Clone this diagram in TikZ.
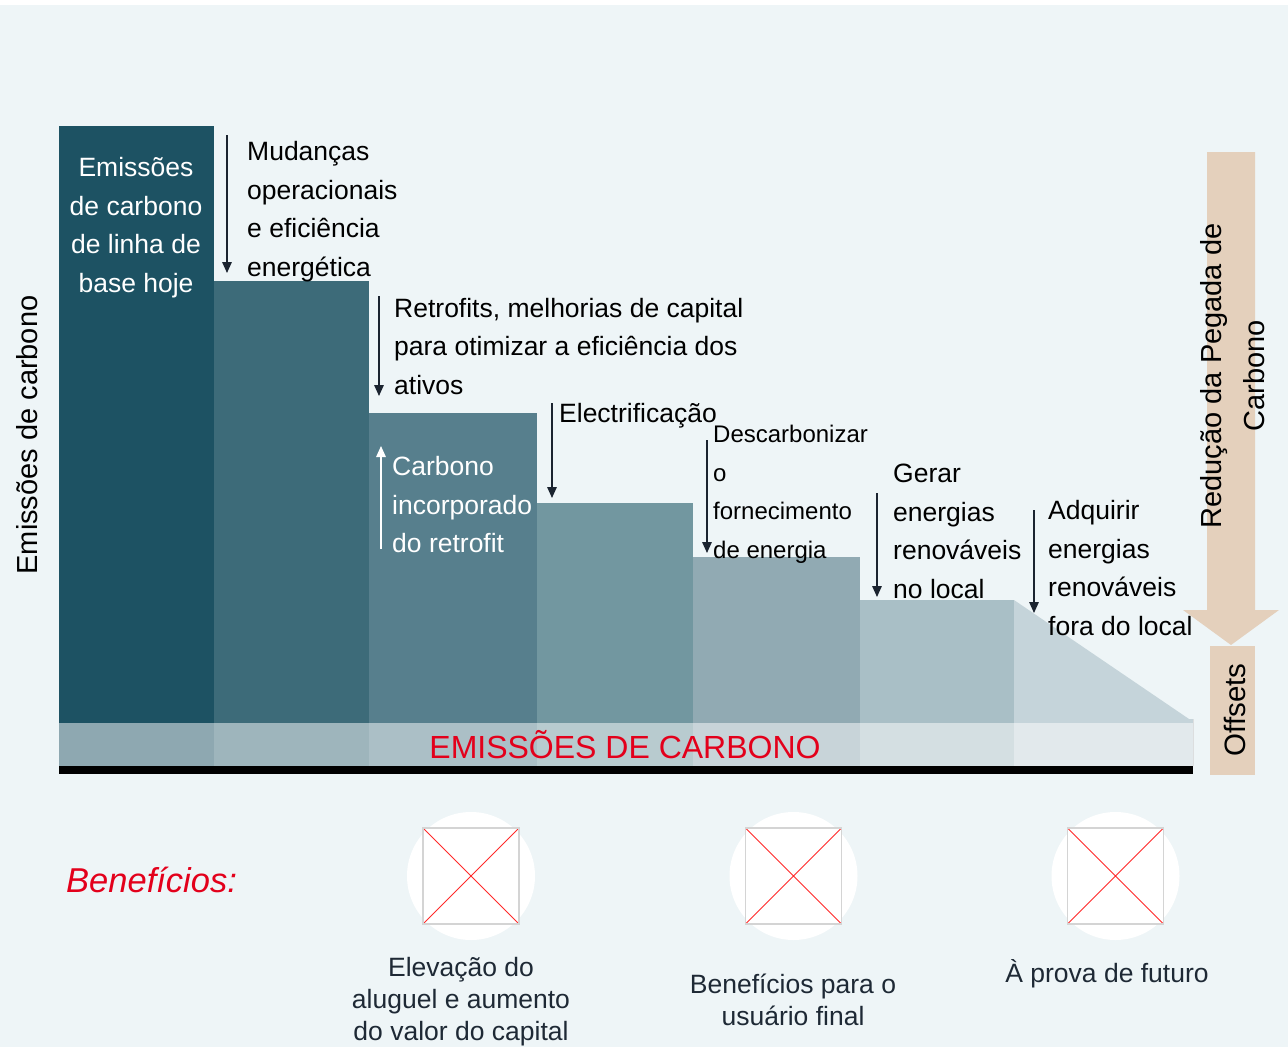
\documentclass[tikz,border=0pt]{standalone}
\usepackage{fontspec}
\setmainfont{Liberation Sans}
\usetikzlibrary{arrows.meta}
\definecolor{bg}{HTML}{EEF5F7}
\definecolor{cA}{HTML}{1D5263}
\definecolor{cB}{HTML}{3D6B79}
\definecolor{cC}{HTML}{577F8D}
\definecolor{cD}{HTML}{7297A0}
\definecolor{cE}{HTML}{91AAB3}
\definecolor{cF}{HTML}{A9BFC6}
\definecolor{cG}{HTML}{C5D4DA}
\definecolor{beige}{HTML}{E4D0BC}
\definecolor{arrdark}{HTML}{1B2430}
\definecolor{baseline}{HTML}{141C25}
\definecolor{redtxt}{HTML}{E3001B}
\definecolor{txtdark}{HTML}{1E2935}
\definecolor{sqgray}{HTML}{D4D4D4}
\definecolor{xred}{HTML}{FF2A2A}
\begin{document}
\begin{tikzpicture}[x=1pt,y=-1pt,
  lbl/.style={anchor=west,inner sep=0pt,align=left,font=\fontsize{26.5}{38.5}\selectfont,text=black},
  darr/.style={draw=arrdark,line width=1.5pt,-{Triangle[length=11pt,width=9.5pt]}},
  warr/.style={draw=white,line width=1.5pt,-{Triangle[length=11pt,width=9.5pt]}},
  bene/.style={inner sep=0pt,align=center,font=\fontsize{26.5}{32}\selectfont,text=txtdark},
  disc/.style={circle,fill=white,minimum size=128pt,inner sep=0pt},
  vlab/.style={rotate=90,inner sep=0pt,align=center,font=\fontsize{29}{43}\selectfont,text=black}]
\useasboundingbox (0,0) rectangle (1288,1047);
\fill[bg] (0,0) rectangle (1288,1047);
\fill[white] (0,0) rectangle (1288,5);
% bars
\fill[cA] (59,126) rectangle (214,766);
\fill[cB] (214,281) rectangle (369,766);
\fill[cC] (369,413) rectangle (537,766);
\fill[cD] (537,503) rectangle (693,766);
\fill[cE] (693,557) rectangle (860,766);
\fill[cF] (860,600) rectangle (1014,766);
\fill[cG] (1014,600) -- (1189,719) -- (1193,719) -- (1193,766) -- (1014,766) -- cycle;
% band
\fill[white,opacity=0.5] (59,723) rectangle (1193,766);
\draw[sqgray!70!bg,line width=1pt] (1193,719) -- (1193,766);
\fill[baseline] (59,766) rectangle (1193,774);
\node[inner sep=0pt,text=redtxt,font=\fontsize{32}{36}\selectfont] (band) at (625,744.5) {EMISSÕES DE CARBONO};
% left label
\node[vlab] (ylab) at (27,435) {Emissões de carbono};
% bar 1 text
\node[inner sep=0pt,align=center,font=\fontsize{26.5}{38.5}\selectfont,text=white] (base) at (136,227.5) {Emissões\\de carbono\\de linha de\\base hoje};
% step labels and arrows
\node[lbl] (t1) at (247,211.5) {Mudanças\\operacionais\\e eficiência\\energética};
\coordinate (a1s) at (227,135); \coordinate (a1e) at (227,273);
\draw[darr] (a1s) -- (a1e);
\node[lbl] (t2) at (394,346.5) {Retrofits, melhorias de capital\\para otimizar a eficiência dos\\ativos};
\coordinate (a2s) at (379,296); \coordinate (a2e) at (379,396);
\draw[darr] (a2s) -- (a2e);
\node[lbl,text=white] (t3) at (392,505) {Carbono\\incorporado\\do retrofit};
\coordinate (a3s) at (381,549); \coordinate (a3e) at (381,446);
\draw[warr] (a3s) -- (a3e);
\node[lbl] (t4) at (559,416) {Electrificação};
\coordinate (a4s) at (552,403); \coordinate (a4e) at (552,498);
\draw[darr] (a4s) -- (a4e);
\node[lbl,font=\fontsize{24}{38.5}\selectfont] (t5) at (713,494.5) {Descarbonizar\\o\\fornecimento\\de energia};
\coordinate (a5s) at (707,440); \coordinate (a5e) at (707,553);
\draw[darr] (a5s) -- (a5e);
\node[lbl] (t6) at (893,531.5) {Gerar\\energias\\renováveis\\no local};
\coordinate (a6s) at (877,493); \coordinate (a6e) at (877,597);
\draw[darr] (a6s) -- (a6e);
\node[lbl] (t7) at (1048,568) {Adquirir\\energias\\renováveis\\fora do local};
\coordinate (a7s) at (1034,510); \coordinate (a7e) at (1034,613);
\draw[darr] (a7s) -- (a7e);
% right big arrow
\fill[beige] (1207,152) -- (1255,152) -- (1255,610) -- (1279,610) -- (1231,645) -- (1183,610) -- (1207,610) -- cycle;
\node[vlab] (red) at (1233,376) {Redução da Pegada de\\Carbono};
\fill[beige] (1210,646) rectangle (1255,775);
\node[vlab,font=\fontsize{29.5}{36}\selectfont] (off) at (1235,710) {Offsets};
% benefits
\node[anchor=west,inner sep=0pt,text=redtxt,font=\fontsize{34.5}{38}\selectfont\itshape] (ben) at (66,880) {Benefícios:};
\foreach \n/\cx in {1/471,2/793.5,3/1115.5}{
  \node[disc] (d\n) at (\cx,876) {};
  \fill[white] (\cx-48,828) rectangle (\cx+48,924);
  \draw[xred,line width=0.9pt] (\cx-48,828) -- (\cx+48,924) (\cx-48,924) -- (\cx+48,828);
  \draw[sqgray,line width=1.5pt] (\cx-48,828) rectangle (\cx+48,924);
}
\node[bene] (b1) at (461,1001.5) {Elevação do\\aluguel e aumento\\do valor do capital};
\node[bene] (b2) at (793,999.5) {Benefícios para o\\usuário final};
\node[bene] (b3) at (1107,973.5) {À prova de futuro};
\end{tikzpicture}
\end{document}
